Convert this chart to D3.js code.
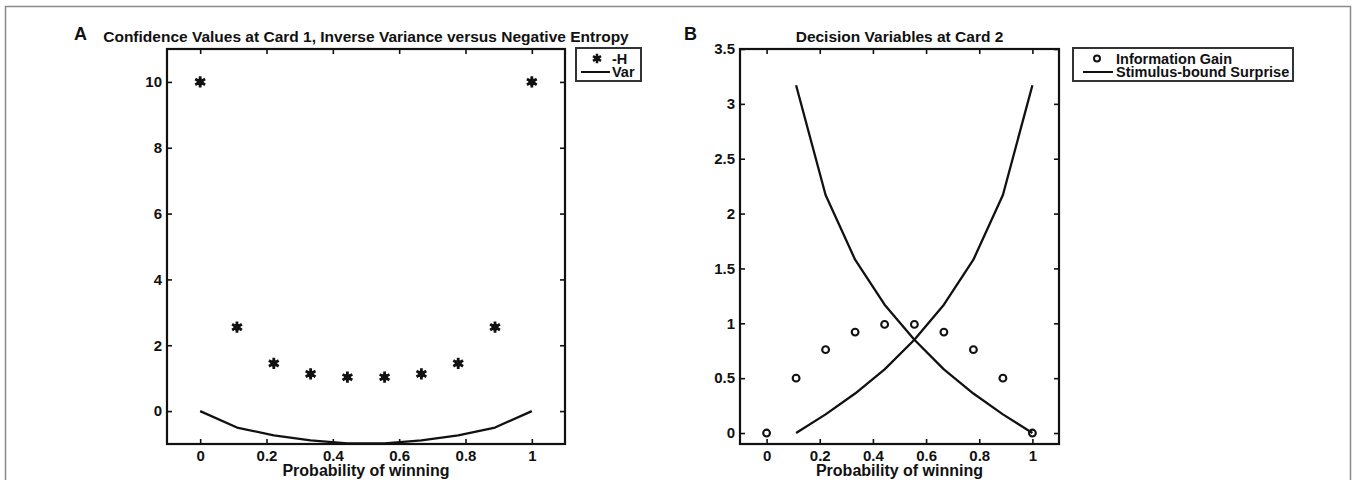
<!DOCTYPE html>
<html>
<head>
<meta charset="utf-8">
<script src="https://cdn.jsdelivr.net/npm/d3@7"></script>
<style>
  html, body { margin: 0; padding: 0; background: #fff; }
  svg { display: block; }
  text { font-family: "Liberation Sans", Arial, Helvetica, sans-serif; font-weight: bold; fill: #111; }
  .tick text { font-size: 15px !important; }
</style>
</head>
<body>
<svg id="chart" width="1357" height="480"></svg>
<script>
// ---------- data ----------
const probA = [0, 0.111, 0.222, 0.333, 0.444, 0.556, 0.667, 0.778, 0.889, 1];
const negEntropy = [10, 2.55, 1.45, 1.13, 1.03, 1.03, 1.13, 1.45, 2.55, 10];
const varianceA = [0, -0.5, -0.74, -0.89, -0.98, -0.98, -0.89, -0.74, -0.5, 0];

const probB = [0, 0.111, 0.222, 0.333, 0.444, 0.556, 0.667, 0.778, 0.889, 1];
const infoGain = [0, 0.5, 0.76, 0.92, 0.99, 0.99, 0.92, 0.76, 0.5, 0];
const probSurprise = [0.111, 0.222, 0.333, 0.444, 0.556, 0.667, 0.778, 0.889, 1];
const surpriseFalling = [3.17, 2.17, 1.58, 1.17, 0.85, 0.58, 0.36, 0.17, 0];
const surpriseRising = [0, 0.17, 0.36, 0.58, 0.85, 1.17, 1.58, 2.17, 3.17];

const xTicks = [0, 0.2, 0.4, 0.6, 0.8, 1];
const yTicksA = [0, 2, 4, 6, 8, 10];
const yTicksB = [0, 0.5, 1, 1.5, 2, 2.5, 3, 3.5];

const titleA = "Confidence Values at Card 1, Inverse Variance versus Negative Entropy";
const titleB = "Decision Variables at Card 2";
const xLabel = "Probability of winning";
const legendA = ["-H", "Var"];
const legendB = ["Information Gain", "Stimulus-bound Surprise"];

// ---------- drawing ----------
const svg = d3.select("#chart");

// outer figure frame
svg.append("rect")
  .attr("x", 5.5).attr("y", 6.5).attr("width", 1345).attr("height", 500)
  .attr("fill", "none").attr("stroke", "#8a8a8a").attr("stroke-width", 1.5);

function panel(cfg) {
  const g = svg.append("g");
  const x = d3.scaleLinear().domain(cfg.xDomain).range([cfg.left, cfg.right]);
  const y = d3.scaleLinear().domain(cfg.yDomain).range([cfg.bottom, cfg.top]);

  const fmt = d3.format("~g");
  const tickStyle = sel => {
    sel.attr("font-size", 15).attr("font-family", null);
    sel.select(".domain").remove();
    sel.selectAll(".tick line").attr("stroke", "#111").attr("stroke-width", 1.6);
    sel.selectAll(".tick text")
      .attr("font-size", 15)
      .style("font-family", '"Liberation Sans", Arial, sans-serif')
      .style("font-weight", "bold").attr("fill", "#111");
  };

  g.append("g").attr("transform", `translate(0,${cfg.bottom})`)
    .call(d3.axisBottom(x).tickValues(xTicks).tickFormat(fmt).tickSizeInner(-5).tickSizeOuter(0).tickPadding(6))
    .call(tickStyle);
  g.append("g").attr("transform", `translate(0,${cfg.top})`)
    .call(d3.axisTop(x).tickValues(xTicks).tickFormat("").tickSizeInner(-5).tickSizeOuter(0))
    .call(tickStyle);
  g.append("g").attr("transform", `translate(${cfg.left},0)`)
    .call(d3.axisLeft(y).tickValues(cfg.yTicks).tickFormat(fmt).tickSizeInner(-5).tickSizeOuter(0).tickPadding(5))
    .call(tickStyle);
  g.append("g").attr("transform", `translate(${cfg.right},0)`)
    .call(d3.axisRight(y).tickValues(cfg.yTicks).tickFormat("").tickSizeInner(-5).tickSizeOuter(0))
    .call(tickStyle);

  // box
  g.append("rect")
    .attr("x", cfg.left).attr("y", cfg.top)
    .attr("width", cfg.right - cfg.left).attr("height", cfg.bottom - cfg.top)
    .attr("fill", "none").attr("stroke", "#111").attr("stroke-width", 2.2);

  const line = d3.line().x(d => x(d[0])).y(d => y(d[1]));
  cfg.lines.forEach(L => {
    g.append("path").datum(d3.zip(L.xs, L.ys))
      .attr("d", line).attr("fill", "none")
      .attr("stroke", "#111").attr("stroke-width", 2.3).attr("stroke-linejoin", "round");
  });

  cfg.markers.forEach(M => {
    const pts = d3.zip(M.xs, M.ys);
    if (M.type === "star") {
      g.selectAll(null).data(pts).join("path")
        .attr("transform", d => `translate(${x(d[0])},${y(d[1])})`)
        .attr("d", d3.symbol(d3.symbolAsterisk, 90))
        .attr("fill", "none").attr("stroke", "#111").attr("stroke-width", 2.8);
      g.selectAll(null).data(pts).join("circle")
        .attr("cx", d => x(d[0])).attr("cy", d => y(d[1])).attr("r", 3.4).attr("fill", "#111");
    } else {
      g.selectAll(null).data(pts).join("circle")
        .attr("cx", d => x(d[0])).attr("cy", d => y(d[1])).attr("r", 3.4)
        .attr("fill", "none").attr("stroke", "#111").attr("stroke-width", 2.1);
    }
  });

  // title
  g.append("text").attr("x", (cfg.left + cfg.right) / 2).attr("y", cfg.top - 7)
    .attr("text-anchor", "middle").style("font-size", "15.5px").text(cfg.title);
  // panel letter
  g.append("text").attr("x", cfg.letterX).attr("y", 40)
    .style("font-size", "18px").text(cfg.letter);
  // x label
  g.append("text").attr("x", (cfg.left + cfg.right) / 2).attr("y", 476)
    .attr("text-anchor", "middle").style("font-size", "16px").text(xLabel);

  // legend
  const lg = cfg.legend;
  g.append("rect").attr("x", lg.x).attr("y", lg.y).attr("width", lg.w).attr("height", lg.h)
    .attr("fill", "#fff").attr("stroke", "#333").attr("stroke-width", 2);
  const r0 = lg.y + 10.5, r1 = lg.y + 24;
  if (cfg.letter === "A") {
    g.append("path").attr("transform", `translate(${lg.x + 21},${r0})`)
      .attr("d", d3.symbol(d3.symbolAsterisk, 60))
      .attr("fill", "none").attr("stroke", "#111").attr("stroke-width", 2.5);
    g.append("circle").attr("cx", lg.x + 21).attr("cy", r0).attr("r", 2.6).attr("fill", "#111");
  } else {
    g.append("circle").attr("cx", lg.x + 24).attr("cy", r0).attr("r", 3)
      .attr("fill", "none").attr("stroke", "#111").attr("stroke-width", 2);
  }
  g.append("line").attr("x1", lg.x + lg.lineX0).attr("x2", lg.x + lg.lineX1)
    .attr("y1", r1).attr("y2", r1).attr("stroke", "#111").attr("stroke-width", 2);
  g.append("text").attr("x", lg.x + lg.textX).attr("y", r0 + 5).style("font-size", "14.5px").text(lg.labels[0]);
  g.append("text").attr("x", lg.x + lg.textX).attr("y", r1 + 5).style("font-size", "14.5px").text(lg.labels[1]);
}

panel({
  letter: "A", letterX: 74, title: titleA,
  left: 167, right: 565, top: 49, bottom: 444,
  xDomain: [-0.1, 1.1], yDomain: [-1, 11], yTicks: yTicksA,
  lines: [{ xs: probA, ys: varianceA }],
  markers: [{ type: "star", xs: probA, ys: negEntropy }],
  legend: { x: 576, y: 48, w: 65, h: 33, lineX0: 5, lineX1: 34, textX: 36, labels: legendA }
});

panel({
  letter: "B", letterX: 684, title: titleB,
  left: 740, right: 1059, top: 49, bottom: 444,
  xDomain: [-0.1, 1.1], yDomain: [-0.1, 3.5], yTicks: yTicksB,
  lines: [{ xs: probSurprise, ys: surpriseFalling }, { xs: probSurprise, ys: surpriseRising }],
  markers: [{ type: "circle", xs: probB, ys: infoGain }],
  legend: { x: 1073, y: 48, w: 220, h: 33, lineX0: 10, lineX1: 40, textX: 43, labels: legendB }
});
</script>
</body>
</html>
